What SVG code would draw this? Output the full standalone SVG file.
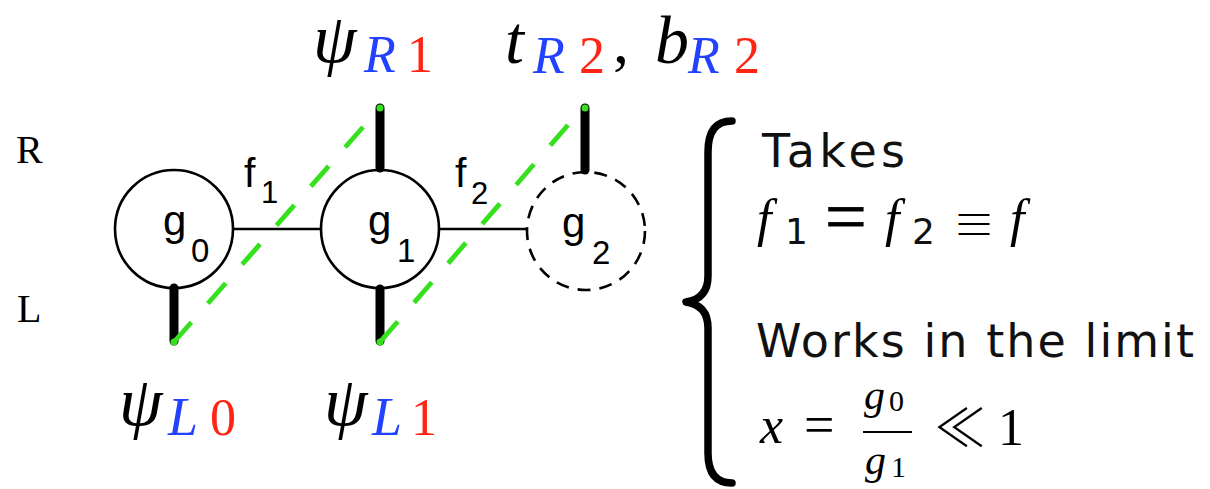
<svg xmlns="http://www.w3.org/2000/svg" width="1210" height="489" viewBox="0 0 1210 489">
<style>
.bg{fill:#fff}
.node{fill:none;stroke:#000;stroke-width:2.6}
.dashed{stroke-dasharray:13 9}
.link{stroke:#000;stroke-width:2.6;fill:none}
.stub{stroke:#000;stroke-width:9;stroke-linecap:round;fill:none}
.green{stroke:#35e01c;stroke-width:4.8;stroke-dasharray:27 25;fill:none}
.dot{fill:#35e01c}
.lbl{font-family:"Liberation Sans",Arial,sans-serif;fill:#000}
.it{font-family:"Liberation Serif","Times New Roman",serif;font-style:italic}
.rm{font-family:"Liberation Serif","Times New Roman",serif}
.blue{fill:#2342ff}
.red{fill:#ff2414}
.sans{font-family:"DejaVu Sans",sans-serif;fill:#111}
.cjk{font-family:"Noto Sans CJK JP","DejaVu Serif",serif;font-weight:300}
.brace{fill:none;stroke:#000;stroke-width:7.5;stroke-linecap:round;stroke-linejoin:round}
</style>
<rect class="bg" x="0" y="0" width="1210" height="489"/>

<g id="connectors">
  <line class="link" x1="233" y1="229" x2="320" y2="229"/>
  <line class="link" x1="440" y1="229" x2="527" y2="229"/>
  <line class="stub" x1="174" y1="288" x2="174" y2="341"/>
  <line class="stub" x1="380" y1="108" x2="380" y2="168"/>
  <line class="stub" x1="380" y1="289" x2="380" y2="341"/>
  <line class="stub" x1="585" y1="108" x2="585" y2="170"/>
  <line class="green" x1="363" y1="127" x2="174" y2="342"/>
  <line class="green" x1="568" y1="125" x2="380" y2="342"/>
  <circle class="dot" cx="174" cy="342" r="3.5"/>
  <circle class="dot" cx="380" cy="108" r="3.5"/>
  <circle class="dot" cx="380" cy="342" r="3.5"/>
  <circle class="dot" cx="585" cy="108" r="3.5"/>
</g>

<g id="node-g0">
  <circle class="node" cx="174" cy="229" r="59"/>
  <text class="lbl" x="163" y="235" font-size="42">g</text>
  <text class="lbl" x="191" y="262" font-size="33">0</text>
</g>
<g id="node-g1">
  <circle class="node" cx="380" cy="229" r="59"/>
  <text class="lbl" x="368" y="235" font-size="42">g</text>
  <text class="lbl" x="397" y="262" font-size="33">1</text>
</g>
<g id="node-g2">
  <circle class="node dashed" cx="586" cy="231" r="59"/>
  <text class="lbl" x="562" y="237" font-size="42">g</text>
  <text class="lbl" x="592" y="264" font-size="33">2</text>
</g>

<g id="edge-labels">
  <text class="lbl" x="244" y="187" font-size="41">f</text>
  <text class="lbl" x="261" y="203" font-size="31">1</text>
  <text class="lbl" x="455" y="187" font-size="41">f</text>
  <text class="lbl" x="471" y="204" font-size="31">2</text>
</g>

<g id="side-labels">
  <text class="rm" x="16" y="163" font-size="40">R</text>
  <text class="rm" x="17" y="322" font-size="40">L</text>
</g>

<g id="top-labels">
  <text class="it" x="313" y="62" font-size="70">ψ</text>
  <text class="it blue" x="364" y="72" font-size="52">R</text>
  <text class="rm red" x="407" y="72" font-size="52">1</text>
  <text class="it" x="505" y="63" font-size="68">t</text>
  <text class="it blue" x="533" y="73" font-size="52">R</text>
  <text class="rm red" x="579" y="73" font-size="52">2</text>
  <text class="rm" x="613" y="63" font-size="64">,</text>
  <text class="it" x="655" y="63" font-size="68">b</text>
  <text class="it blue" x="688" y="73" font-size="52">R</text>
  <text class="rm red" x="734" y="73" font-size="52">2</text>
</g>

<g id="bottom-labels">
  <text class="it" x="119" y="425" font-size="70">ψ</text>
  <text class="it blue" x="168" y="435" font-size="54">L</text>
  <text class="rm red" x="210" y="435" font-size="52">0</text>
  <text class="it" x="324" y="425" font-size="70">ψ</text>
  <text class="it blue" x="372" y="435" font-size="54">L</text>
  <text class="rm red" x="411" y="435" font-size="52">1</text>
</g>

<g id="brace-note">
  <path class="brace" d="M732,121 C716,121 708,131 708,152 L708,276 C708,292 700,300 686,302 C700,304 708,312 708,328 L708,453 C708,473 716,483 732,483"/>
  <text class="sans" x="762" y="167" font-size="46" textLength="143" lengthAdjust="spacing">Takes</text>
  <text class="it" x="757" y="236" font-size="52">f</text>
  <text class="sans" x="785" y="244" font-size="36">1</text>
  <text class="rm" x="825" y="241" font-size="74" stroke="#000" stroke-width="0.8">=</text>
  <text class="it" x="885" y="236" font-size="52">f</text>
  <text class="sans" x="912" y="244" font-size="36">2</text>
  <text class="cjk" x="953" y="240" font-size="42">≡</text>
  <text class="it" x="1010" y="236" font-size="52">f</text>
  <text class="sans" x="756" y="357" font-size="46" textLength="438" lengthAdjust="spacing">Works in the limit</text>
  <text class="it" x="760" y="443" font-size="52">x</text>
  <text class="rm" x="804" y="443" font-size="54">=</text>
  <line x1="863" y1="432" x2="912" y2="432" stroke="#000" stroke-width="2"/>
  <text class="it" x="864" y="409" font-size="42">g</text>
  <text class="rm" x="889" y="411" font-size="30">0</text>
  <text class="it" x="865" y="474" font-size="42">g</text>
  <text class="rm" x="891" y="477" font-size="30">1</text>
  <text class="cjk" x="934" y="447" font-size="52">≪</text>
  <text class="rm" x="998" y="445" font-size="52">1</text>
</g>
</svg>
